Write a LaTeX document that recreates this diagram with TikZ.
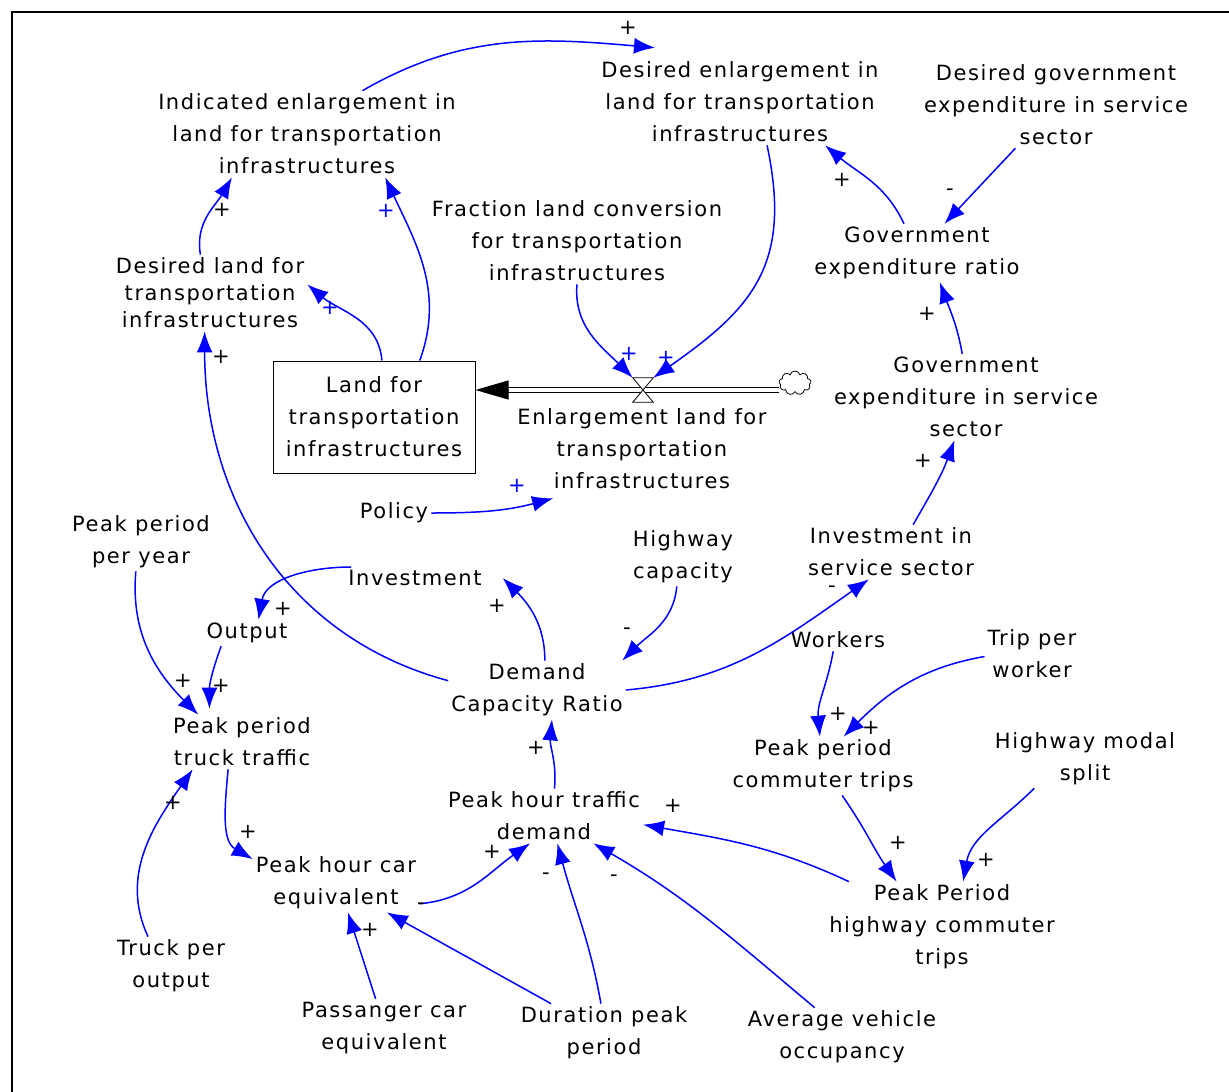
\documentclass[tikz,border=0pt]{standalone}
\usepackage{fontspec}
\setmainfont{DejaVu Sans}[LetterSpace=7.5]
\usetikzlibrary{positioning, arrows.meta, shapes.symbols}
\newcommand{\varfont}{\fontsize{21}{32}\selectfont}
\tikzset{
  var/.style={align=center, inner sep=3pt, font=\varfont},
  link/.style={blue, line width=1.5pt, -{Latex[length=21pt,width=16pt]}},
  pol/.style={inner sep=0pt, font=\varfont},
}

\begin{document}
\begin{tikzpicture}[x=1pt, y=1pt]
  \useasboundingbox (0,0) rectangle (1229,-1092);
  \draw[line width=1.5pt] (12,-1092) -- (12,-12) -- (1229,-12);

  \node[var] (indenl) at (307,-134) {Indicated enlargement in\\land for transportation\\infrastructures};
  \node[var] (desenl) at (740,-102) {Desired enlargement in\\land for transportation\\infrastructures};
  \node[var] (dge) at (1056,-105) {Desired government\\expenditure in service\\sector};
  \node[var] (flc) at (577,-241) {Fraction land conversion\\for transportation\\infrastructures};
  \node[var, font=\fontsize{21}{27}\selectfont] (dlf) at (210,-293) {Desired land for\\transportation\\infrastructures};
  \node[var] (ger) at (917,-253) {Government\\expenditure ratio};
  \node[var, draw, line width=1pt, minimum width=202pt, minimum height=112pt] (land) at (374,-417) {Land for\\transportation\\infrastructures};
  \node[minimum width=20pt, minimum height=24pt, inner sep=0pt] (valve) at (643,-390) {};
  \node[cloud, draw, cloud puffs=9, aspect=1.4, minimum width=32pt, minimum height=24pt, inner sep=0pt, line width=0.8pt] (src) at (795,-383) {};
  \node[var] (elt) at (642,-449) {Enlargement land for\\transportation\\infrastructures};
  \node[var] (gesec) at (966,-397) {Government\\expenditure in service\\sector};
  \node[var] (policy) at (394,-513) {Policy};
  \node[var] (ppy) at (141,-542) {Peak period\\per year};
  \node[var] (hcap) at (683,-557) {Highway\\capacity};
  \node[var] (iss) at (891,-552) {Investment in\\service sector};
  \node[var] (inv) at (415,-578) {Investment};
  \node[var] (output) at (247,-633) {Output};
  \node[var] (workers) at (838,-640) {Workers};
  \node[var] (tpw) at (1032,-654) {Trip per\\worker};
  \node[var] (dcr) at (537,-690) {Demand\\Capacity Ratio};
  \node[var] (pptt) at (242,-742) {Peak period\\truck traffic};
  \node[var] (ppct) at (823,-766) {Peak period\\commuter trips};
  \node[var] (hms) at (1085,-759) {Highway modal\\split};
  \node[var] (phtd) at (544,-816) {Peak hour traffic\\demand};
  \node[var] (phce) at (336,-883) {Peak hour car\\equivalent};
  \node[var] (pphct) at (942,-927) {Peak Period\\highway commuter\\trips};
  \node[var] (tpo) at (171,-966) {Truck per\\output};
  \node[var] (pce) at (384,-1028) {Passanger car\\equivalent};
  \node[var] (dpp) at (604,-1033) {Duration peak\\period};
  \node[var] (avo) at (842,-1037) {Average vehicle\\occupancy};

  % flow into the stock
  \coordinate (tipbase) at (508,-390);
  \draw[line width=1pt, double distance=4.5pt] (src.west |- valve) -- (tipbase);
  \draw[line width=1pt, -{Triangle[length=33pt,width=19pt]}] (tipbase) -- (land.east |- valve);
  \draw[line width=0.8pt, fill=white] (valve.north west) -- (valve.north east) -- (valve.south west) -- (valve.south east) -- cycle;

  \draw[link] (indenl.38) to[out=30, in=175] ([yshift=11pt]desenl.153);
  \draw[link] (dlf.104) to[out=100, in=240] (indenl.210);
  \draw[link] (land.51) to[out=70, in=295] (indenl.331);
  \draw[link] (land.82) to[out=95, in=320] (dlf.5);
  \draw[link] (desenl.302) to[out=-78, in=35, looseness=1.2] (valve.north east);
  \draw[link] (flc.270) to[out=265, in=135] (valve.north west);
  \draw[link] (dge) -- (ger);
  \draw[link] (ger.114) to[out=115, in=320] (desenl.333);
  \draw[link] (gesec.95) to[out=100, in=290] (ger.308);
  \draw[link] (iss.51) to[out=60, in=250] (gesec.255);
  \draw[link] (policy.east) to[out=0, in=195] ([yshift=-6pt]elt.206);
  \draw[link] (dcr.174) to[out=165, in=270] (dlf.262);
  \draw[link] (dcr.75) to[out=90, in=315] ([xshift=18pt]inv.east);
  \draw[link] ([xshift=6pt]inv.north west) to[out=180, in=80] (output.49);
  \draw[link] (ppy.260) to[out=265, in=135] (pptt.148);
  \draw[link] (output.207) to[out=250, in=90] ([yshift=6pt]pptt.140);
  \draw[link] (hcap.258) to[out=265, in=45] (dcr.19);
  \draw[link] (dcr.east) to[out=5, in=215] (iss.231);
  \draw[link] (phtd.69) to[out=85, in=265] (dcr.297);
  \draw[link] (workers.247) to[out=260, in=95] (ppct.96);
  \draw[link] (tpw.183) to[out=190, in=45] (ppct.55);
  \draw[link] (ppct.303) to[out=-55, in=125] (pphct.135);
  \draw[link] (hms.210) to[out=225, in=80] (pphct.65);
  \draw[link] (pphct.154) to[out=155, in=350] (phtd.355);
  \draw[link] (pptt.243) to[out=265, in=150] (phce.164);
  \draw[link] (tpo.128) to[out=115, in=235] (pptt.209);
  \draw[link] (phce.346) to[out=5, in=215] (phtd.243);
  \draw[link] (pce.106) -- (phce.292);
  \draw[link] (dpp.151) -- (phce.330);
  \draw[link] (dpp.96) to[out=100, in=285] (phtd.296);
  \draw[link] (avo.133) to[out=140, in=330] (phtd.331);

  % polarities
  \foreach \x/\y/\s [count=\i] in {628/28/+, 222/210/+, 842/180/+, 950/192/-, 927/314/+,
      221/357/+, 923/461/+, 497/606/+, 283/609/+, 627/631/-, 832/589/-, 183/681/+,
      221/686/+, 838/714/+, 871/728/+, 536/748/+, 898/843/+, 986/860/+, 673/806/+,
      248/832/+, 173/803/+, 492/852/+, 421/906/-, 370/930/+, 546/876/-, 614/878/-}
    \node[pol] (sgn\i) at (\x,-\y) {\s};
  \foreach \x/\y [count=\i] in {386/211, 330/308, 629/354, 666/358, 517/486}
    \node[pol, blue] (bsgn\i) at (\x,-\y) {+};
\end{tikzpicture}
\end{document}
